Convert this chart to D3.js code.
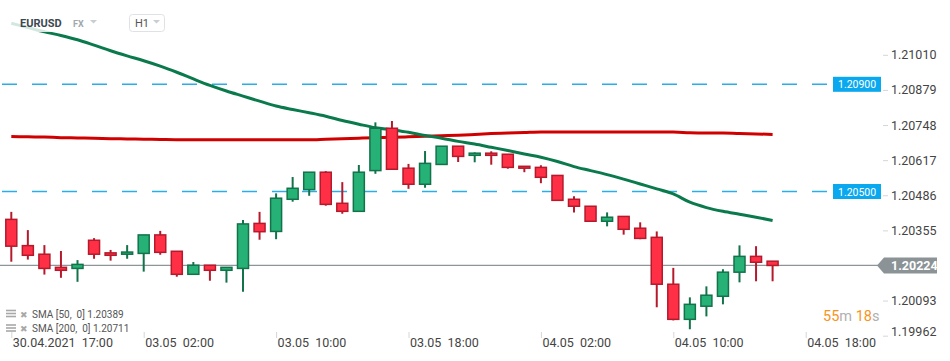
<!DOCTYPE html>
<html>
<head>
<meta charset="utf-8">
<script src="https://cdn.jsdelivr.net/npm/d3@7"></script>
<style>
    body { margin: 0; background: #fff; font-family: Roboto, "Open Sans", sans-serif; }
    #chart { width: 950px; height: 361px; }
    .tick line { stroke: #d6d6d6; }
    .axis text { fill: #444; font-size: 12.5px; font-family: Roboto, sans-serif; }
</style>
</head>
<body>
<div id="chart"></div>
<script>
// hourly EURUSD candles, 30.04 17:00 -> 04.05 (index 0..46)
var opens  = [1.20396, 1.20298, 1.20266, 1.20217, 1.20213, 1.20318, 1.20271, 1.20266, 1.20269, 1.20338,
              1.20277, 1.20191, 1.20225, 1.20206, 1.20213, 1.20381, 1.20351, 1.20471, 1.20507, 1.20572,
              1.20456, 1.20426, 1.20578, 1.20736, 1.20587, 1.20527, 1.20601, 1.20669, 1.20635, 1.20643,
              1.20639, 1.20594, 1.20590, 1.20560, 1.20471, 1.20445, 1.20389, 1.20407, 1.20363, 1.20329,
              1.20154, 1.20023, 1.20072, 1.20109, 1.20199, 1.20258, 1.20240];
var highs  = [1.20424, 1.20356, 1.20300, 1.20278, 1.20244, 1.20326, 1.20282, 1.20300, 1.20338, 1.20353,
              1.20277, 1.20237, 1.20225, 1.20217, 1.20394, 1.20424, 1.20493, 1.20554, 1.20572, 1.20576,
              1.20535, 1.20599, 1.20758, 1.20763, 1.20603, 1.20651, 1.20669, 1.20669, 1.20646, 1.20650,
              1.20639, 1.20594, 1.20598, 1.20560, 1.20482, 1.20445, 1.20422, 1.20407, 1.20385, 1.20351,
              1.20215, 1.20105, 1.20146, 1.20210, 1.20299, 1.20296, 1.20240];
var lows   = [1.20238, 1.20246, 1.20190, 1.20178, 1.20163, 1.20249, 1.20242, 1.20249, 1.20201, 1.20264,
              1.20182, 1.20191, 1.20167, 1.20160, 1.20126, 1.20320, 1.20322, 1.20462, 1.20484, 1.20447,
              1.20417, 1.20426, 1.20566, 1.20583, 1.20510, 1.20514, 1.20601, 1.20610, 1.20609, 1.20600,
              1.20585, 1.20572, 1.20531, 1.20467, 1.20422, 1.20389, 1.20370, 1.20339, 1.20322, 1.20068,
              1.20019, 1.19986, 1.20034, 1.20079, 1.20161, 1.20165, 1.20165];
var closes = [1.20296, 1.20262, 1.20213, 1.20206, 1.20228, 1.20266, 1.20262, 1.20274, 1.20338, 1.20273,
              1.20191, 1.20225, 1.20206, 1.20217, 1.20379, 1.20350, 1.20475, 1.20512, 1.20572, 1.20452,
              1.20426, 1.20572, 1.20736, 1.20583, 1.20527, 1.20605, 1.20669, 1.20631, 1.20643, 1.20635,
              1.20590, 1.20587, 1.20553, 1.20467, 1.20445, 1.20389, 1.20404, 1.20359, 1.20325, 1.20154,
              1.20023, 1.20079, 1.20113, 1.20199, 1.20258, 1.20236, 1.20224];

var sma50  = [1.21128, 1.21112, 1.21096, 1.21082, 1.21066, 1.21046, 1.21025, 1.21006, 1.20988, 1.20968,
              1.20945, 1.20920, 1.20896, 1.20875, 1.20856, 1.20837, 1.20819, 1.20806, 1.20794, 1.20781,
              1.20765, 1.20751, 1.20738, 1.20730, 1.20721, 1.20709, 1.20699, 1.20687, 1.20677, 1.20665,
              1.20653, 1.20640, 1.20628, 1.20612, 1.20593, 1.20578, 1.20563, 1.20546, 1.20528, 1.20510,
              1.20491, 1.20460, 1.20440, 1.20426, 1.20415, 1.20404, 1.20392];
var sma200 = [1.20705, 1.20704, 1.20703, 1.20701, 1.20700, 1.20699, 1.20697, 1.20696, 1.20695, 1.20694,
              1.20693, 1.20693, 1.20693, 1.20693, 1.20693, 1.20693, 1.20693, 1.20693, 1.20693, 1.20695,
              1.20697, 1.20699, 1.20701, 1.20702, 1.20704, 1.20706, 1.20708, 1.20710, 1.20713, 1.20716,
              1.20718, 1.20720, 1.20722, 1.20722, 1.20722, 1.20722, 1.20722, 1.20722, 1.20722, 1.20722,
              1.20722, 1.20719, 1.20718, 1.20718, 1.20716, 1.20715, 1.20713];

var timeTicks  = [0, 8, 16, 24, 32, 40, 48];
var timeLabels = ["30.04.2021\u00a0\u00a017:00", "03.05\u00a0\u00a002:00", "03.05\u00a0\u00a010:00", "03.05\u00a0\u00a018:00",
                  "04.05\u00a0\u00a002:00", "04.05\u00a0\u00a010:00", "04.05\u00a0\u00a018:00"];
var priceTicks = [1.19962, 1.20093, 1.20224, 1.20355, 1.20486, 1.20617, 1.20748, 1.20879, 1.21010];
var levels     = [1.20900, 1.20500];
var lastPrice  = 1.20224;
var legendRows = ["SMA [50,\u00a0\u00a00] 1.20389", "SMA [200,\u00a0\u00a00] 1.20711"];

/**
 * Constructor for the candle chart
 */
function CandleChart(){
    var self = this;
    self.init();
}

CandleChart.prototype.init = function(){
    var self = this;
    self.width = 950;
    self.height = 361;

    self.svg = d3.select("#chart").append("svg")
        .attr("width", self.width)
        .attr("height", self.height);

    //index based x, candles are one hour apart
    self.x = d3.scaleLinear().domain([0, 46]).range([11.3, 772.6]);
    self.y = d3.scaleLinear().domain([1.20500, 1.20900]).range([191.5, 84.3]);
};

CandleChart.prototype.update = function(){
    var self = this;
    var svg = self.svg;
    var x = self.x, y = self.y;

    var candles = opens.map(function(o, i){
        return {i: i, o: o, h: highs[i], l: lows[i], c: closes[i]};
    });

    // y axis on the right
    var yAxis = d3.axisRight(y)
        .tickValues(priceTicks)
        .tickSize(5)
        .tickPadding(3)
        .tickFormat(d3.format(".5f"));

    var gy = svg.append("g")
        .attr("class", "axis")
        .attr("transform", "translate(883,0)")
        .call(yAxis);
    gy.select(".domain").remove();
    gy.selectAll(".tick text")
        .attr("y", function(d){ return Math.min(0, 331.7 - y(d)); });

    // x axis
    var xAxis = d3.axisBottom(x)
        .tickValues(timeTicks)
        .tickSize(6)
        .tickFormat(function(d, i){ return timeLabels[i]; });

    var gx = svg.append("g")
        .attr("class", "axis")
        .attr("transform", "translate(0,332)")
        .call(xAxis);
    gx.select(".domain").remove();
    gx.selectAll(".tick line").attr("stroke", "#e4e4e4");
    gx.selectAll(".tick text")
        .attr("text-anchor", "start")
        .attr("x", 1)
        .attr("y", 15)
        .attr("dy", 0);

    // horizontal levels
    svg.selectAll(".level")
        .data(levels)
        .enter()
        .append("line")
        .attr("class", "level")
        .attr("x1", 2)
        .attr("x2", 828)
        .attr("y1", function(d){ return y(d); })
        .attr("y2", function(d){ return y(d); })
        .attr("stroke", "#29aee9")
        .attr("stroke-width", 1.4)
        .attr("stroke-dasharray", "15,15");

    // current price line
    svg.append("line")
        .attr("x1", 0)
        .attr("x2", 878)
        .attr("y1", y(lastPrice))
        .attr("y2", y(lastPrice))
        .attr("stroke", "#8e9598")
        .attr("stroke-width", 1.2);

    // moving averages
    var line = d3.line()
        .x(function(d, i){ return x(i); })
        .y(function(d){ return y(d); })
        .curve(d3.curveMonotoneX);

    svg.append("path")
        .attr("d", line(sma200))
        .attr("fill", "none")
        .attr("stroke", "#d10000")
        .attr("stroke-width", 3);

    svg.append("path")
        .attr("d", line(sma50))
        .attr("fill", "none")
        .attr("stroke", "#0a7a4c")
        .attr("stroke-width", 3);

    // candles
    var g = svg.selectAll(".candle")
        .data(candles)
        .enter()
        .append("g")
        .attr("class", "candle");

    function isUp(d){ return d.c >= d.o; }

    g.append("line")
        .attr("x1", function(d){ return x(d.i); })
        .attr("x2", function(d){ return x(d.i); })
        .attr("y1", function(d){ return y(d.h); })
        .attr("y2", function(d){ return y(d.l); })
        .attr("stroke", function(d){ return isUp(d) ? "#13724a" : "#b51a2c"; })
        .attr("stroke-width", 2);

    g.append("rect")
        .attr("x", function(d){ return x(d.i) - 5.5; })
        .attr("width", 11)
        .attr("y", function(d){ return y(Math.max(d.o, d.c)); })
        .attr("height", function(d){ return Math.max(1, Math.abs(y(d.o) - y(d.c))); })
        .attr("fill", function(d){ return isUp(d) ? "#26b276" : "#ff3046"; })
        .attr("stroke", function(d){ return isUp(d) ? "#13724a" : "#b51a2c"; })
        .attr("stroke-width", 1.5);

    // level tags
    var tags = svg.selectAll(".levelTag")
        .data(levels)
        .enter()
        .append("g")
        .attr("class", "levelTag")
        .attr("transform", function(d){ return "translate(833," + y(d) + ")"; });
    tags.append("rect")
        .attr("x", 0).attr("y", -7.5)
        .attr("width", 48).attr("height", 15)
        .attr("fill", "#0aa8ee");
    tags.append("text")
        .attr("x", 5).attr("y", 4)
        .attr("fill", "#fff")
        .style("font-size", "10.5px")
        .text(function(d){ return d3.format(".5f")(d); });

    // last price tag
    var ly = y(lastPrice);
    svg.append("path")
        .attr("d", "M877," + ly + "L884," + (ly - 8) + "L937," + (ly - 8) + "L937," + (ly + 8) + "L884," + (ly + 8) + "Z")
        .attr("fill", "#8b9396");
    svg.append("text")
        .attr("x", 891)
        .attr("y", ly + 4.5)
        .attr("fill", "#fff")
        .style("font-size", "12.5px")
        .style("font-weight", "bold")
        .text(d3.format(".5f")(lastPrice));

    // faded header backdrop
    svg.append("rect")
        .attr("x", 0).attr("y", 11)
        .attr("width", 70).attr("height", 21)
        .attr("fill", "#fff")
        .attr("opacity", 0.82);

    svg.append("text")
        .attr("x", 20).attr("y", 27)
        .attr("fill", "#3b4850")
        .style("font-size", "11px")
        .style("font-weight", "bold")
        .text("EURUSD");
    svg.append("text")
        .attr("x", 73).attr("y", 27)
        .attr("fill", "#a0a8ad")
        .style("font-size", "9px")
        .style("font-weight", "bold")
        .text("FX");
    svg.append("path")
        .attr("d", "M90,20L97,20L93.5,23.5Z")
        .attr("fill", "#c8cdd0");

    svg.append("rect")
        .attr("x", 129.5).attr("y", 14.5)
        .attr("width", 35).attr("height", 17)
        .attr("rx", 3)
        .attr("fill", "#fff")
        .attr("stroke", "#dfe2e4");
    svg.append("text")
        .attr("x", 135).attr("y", 27)
        .attr("fill", "#555")
        .style("font-size", "11px")
        .text("H1");
    svg.append("path")
        .attr("d", "M153,20L160,20L156.5,23.5Z")
        .attr("fill", "#c8cdd0");

    // indicator legend
    var leg = svg.selectAll(".legendRow")
        .data(legendRows)
        .enter()
        .append("g")
        .attr("class", "legendRow")
        .attr("transform", function(d, i){ return "translate(0," + (314 + i * 14.5) + ")"; });
    [-3.5, -0.5, 2.5].forEach(function(dy){
        leg.append("rect")
            .attr("x", 6).attr("y", dy - 0.8)
            .attr("width", 10).attr("height", 1.6)
            .attr("fill", "#a8a8a8");
    });
    leg.append("text")
        .attr("x", 20).attr("y", 3.5)
        .attr("fill", "#a8a8a8")
        .style("font-size", "9px")
        .text("\u2716");
    leg.append("text")
        .attr("x", 32).attr("y", 3.5)
        .attr("fill", "#555")
        .style("font-size", "10px")
        .text(function(d){ return d; });

    // candle countdown
    var cd = svg.append("text")
        .attr("x", 823).attr("y", 321)
        .style("font-size", "14.5px");
    cd.append("tspan").attr("fill", "#f7941d").text("55");
    cd.append("tspan").attr("fill", "#b0b0b0").text("m ");
    cd.append("tspan").attr("fill", "#f7941d").text("18");
    cd.append("tspan").attr("fill", "#b0b0b0").text("s");
};

var chart = new CandleChart();
chart.update();
</script>
</body>
</html>
